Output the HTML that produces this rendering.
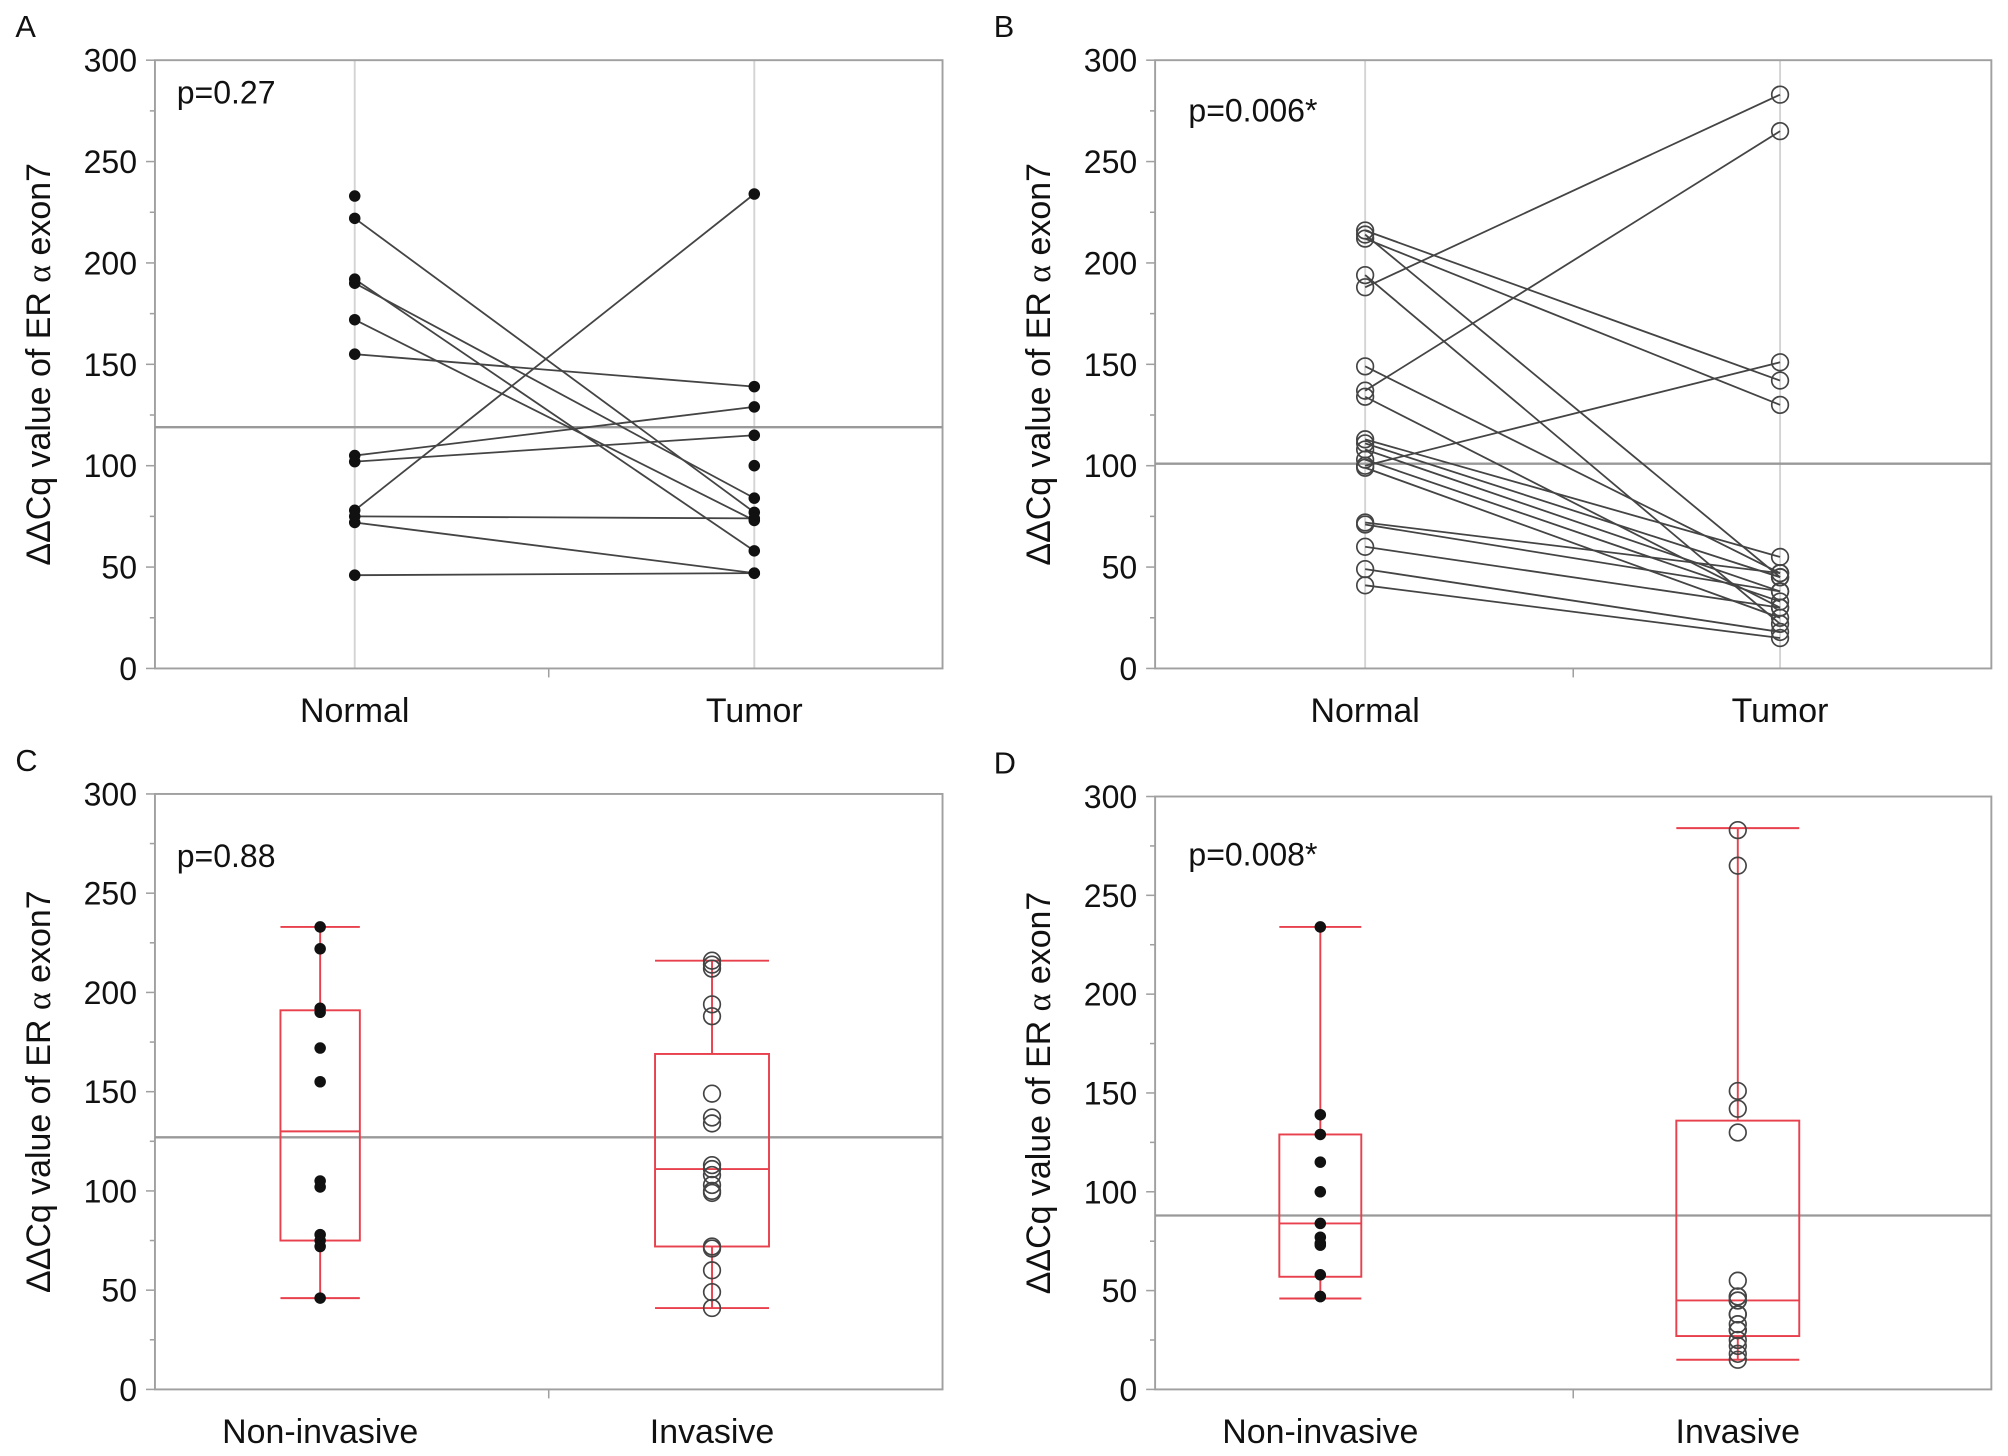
<!DOCTYPE html>
<html><head><meta charset="utf-8"><style>
html,body{margin:0;padding:0;background:#fff;}
svg{display:block;font-family:"Liberation Sans",Arial,sans-serif;}
</style></head><body>
<svg id="fig" width="2008" height="1456" viewBox="0 0 1568 1137" preserveAspectRatio="none" xmlns="http://www.w3.org/2000/svg"></svg>
<script>
const catsAB = ["Normal", "Tumor"];
const catsCD = ["Non-invasive", "Invasive"];
const yTicks = [0, 50, 100, 150, 200, 250, 300];
const aNormalOnly = [233];
const aTumorOnly = [100];
const aPairsNormal = [222, 192, 190, 172, 155, 105, 102, 78, 75, 72, 46];
const aPairsTumor  = [77, 58, 84, 73, 139, 129, 115, 234, 74, 47, 47];
const aMean = 119;
const bPairsNormal = [216, 212, 188, 137, 100, 194, 149, 134, 111, 108, 103, 99, 72, 71, 60, 49, 41, 113, 214];
const bPairsTumor  = [142, 130, 283, 265, 151, 22, 47, 30, 45, 38, 33, 25, 47, 38, 30, 18, 15, 55, 45];
const bMean = 101;
const cNonInvBox = [46, 75, 130, 191, 233];
const cInvBox = [41, 72, 111, 169, 216];
const cMean = 127;
const dNonInvBox = [46, 57, 84, 129, 234];
const dInvBox = [15, 27, 45, 136, 284];
const dMean = 88;
const pLabels = ["p=0.27", "p=0.006*", "p=0.88", "p=0.008*"];

const NS = "http://www.w3.org/2000/svg";
const svg = document.getElementById("fig");
function mk(tag, attrs, parent, text) {
  const e = document.createElementNS(NS, tag);
  for (const k in attrs) e.setAttribute(k, attrs[k]);
  if (text !== undefined) e.textContent = text;
  (parent || svg).appendChild(e);
  return e;
}
function panel(cfg) {
  const g = mk("g", {});
  
  
  const {L, R, T, B} = cfg;
  const y = v => B - (v / 300) * (B - T);
  cfg.y = y;
  const lt = mk("text", {x: cfg.letterX, y: T - 18, "font-size": 24, fill: "#111"}, g, cfg.letter);
  
  
  if (cfg.grid) cfg.cx.forEach(x => {
    const gl = mk("line", {x1: x, x2: x, y1: T, y2: B, stroke: "#d4d4d4", "stroke-width": 1.5}, g);
    
    
  });
  const fr = mk("rect", {x: L, y: T, width: R - L, height: B - T, fill: "none", stroke: "#a0a0a0", "stroke-width": 1.5}, g);
  
  
  for (let v = 0; v <= 300; v += 25) {
    const major = v % 50 === 0;
    mk("line", {x1: L - (major ? 7 : 4), x2: L, y1: y(v), y2: y(v), stroke: "#a0a0a0", "stroke-width": 1.2}, g);
  }
  yTicks.forEach(v => {
    const t = mk("text", {x: L - 14, y: y(v) + 9, "font-size": 25, "text-anchor": "end", fill: "#111"}, g, String(v));
    
    
  });
  mk("line", {x1: (L + R) / 2, x2: (L + R) / 2, y1: B, y2: B + 7, stroke: "#a0a0a0", "stroke-width": 1.2}, g);
  cfg.cats.forEach((c, i) => {
    const t = mk("text", {x: cfg.cx[i], y: B + 42, "font-size": 26.5, "text-anchor": "middle", fill: "#111"}, g, c);
    
    
  });
  const cy = (T + B) / 2;
  const yt = mk("text", {x: 0, y: 0, "font-size": 26.5, "text-anchor": "middle", fill: "#111", transform: `translate(${L - 82},${cy}) rotate(-90)`}, g);
  
  
  mk("tspan", {}, yt, "ΔΔCq value of ER ");
  mk("tspan", {"font-family": "Liberation Serif, serif"}, yt, "α");
  mk("tspan", {}, yt, " exon7");
  const ml = mk("line", {x1: L, x2: R, y1: y(cfg.mean), y2: y(cfg.mean), stroke: "#999", "stroke-width": 1.8}, g);
  
  
  const pl = mk("text", {x: cfg.pX, y: cfg.pY, "font-size": 25, fill: "#111"}, g, cfg.p);
  
  
  return g;
}
function point(g, x, yv, filled) {
  const c = mk("circle", filled ? {cx: x, cy: yv, r: 4.5, fill: "#111"} : {cx: x, cy: yv, r: 6.5, fill: "none", stroke: "#444", "stroke-width": 1.3}, g);
  
  
}
function box(g, cfg, x, w, s) {
  const y = cfg.y, col = "#e8404c";
  const bg = mk("g", {}, g);
  
  
  mk("line", {x1: x, x2: x, y1: y(s[0]), y2: y(s[1]), stroke: col, "stroke-width": 1.5}, bg);
  mk("line", {x1: x, x2: x, y1: y(s[3]), y2: y(s[4]), stroke: col, "stroke-width": 1.5}, bg);
  mk("line", {x1: x - w / 2, x2: x + w / 2, y1: y(s[0]), y2: y(s[0]), stroke: col, "stroke-width": 1.5}, bg);
  mk("line", {x1: x - w / 2, x2: x + w / 2, y1: y(s[4]), y2: y(s[4]), stroke: col, "stroke-width": 1.5}, bg);
  mk("rect", {x: x - w / 2, y: y(s[3]), width: w, height: y(s[1]) - y(s[3]), fill: "none", stroke: col, "stroke-width": 1.5}, bg);
  mk("line", {x1: x - w / 2, x2: x + w / 2, y1: y(s[2]), y2: y(s[2]), stroke: col, "stroke-width": 1.5}, bg);
}

const A = {name: "panel-a", letter: "A", letterX: 12, L: 121, R: 736, T: 47, B: 522, cx: [277, 589], cats: catsAB, grid: true, mean: aMean, p: pLabels[0], pX: 138, pY: 81};
const gA = panel(A);
aPairsNormal.forEach((n, i) => {
  const l = mk("line", {x1: A.cx[0], y1: A.y(n), x2: A.cx[1], y2: A.y(aPairsTumor[i]), stroke: "#444", "stroke-width": 1.4}, gA);
  
  
});
aPairsNormal.concat(aNormalOnly).forEach(v => point(gA, A.cx[0], A.y(v), true));
aPairsTumor.concat(aTumorOnly).forEach(v => point(gA, A.cx[1], A.y(v), true));

const Bp = {name: "panel-b", letter: "B", letterX: 776, L: 902, R: 1555, T: 47, B: 522, cx: [1066, 1390], cats: catsAB, grid: true, mean: bMean, p: pLabels[1], pX: 928, pY: 95};
const gB = panel(Bp);
bPairsNormal.forEach((n, i) => {
  const l = mk("line", {x1: Bp.cx[0], y1: Bp.y(n), x2: Bp.cx[1], y2: Bp.y(bPairsTumor[i]), stroke: "#444", "stroke-width": 1.4}, gB);
  
  
});
bPairsNormal.forEach(v => point(gB, Bp.cx[0], Bp.y(v), false));
bPairsTumor.forEach(v => point(gB, Bp.cx[1], Bp.y(v), false));

const C = {name: "panel-c", letter: "C", letterX: 12, L: 121, R: 736, T: 620, B: 1085, cx: [250, 556], cats: catsCD, grid: false, mean: cMean, p: pLabels[2], pX: 138, pY: 677};
const gC = panel(C);
box(gC, C, C.cx[0], 62, cNonInvBox);
box(gC, C, C.cx[1], 89, cInvBox);
aPairsNormal.concat(aNormalOnly).forEach(v => point(gC, C.cx[0], C.y(v), true));
bPairsNormal.forEach(v => point(gC, C.cx[1], C.y(v), false));

const D = {name: "panel-d", letter: "D", letterX: 776, L: 902, R: 1555, T: 622, B: 1085, cx: [1031, 1357], cats: catsCD, grid: false, mean: dMean, p: pLabels[3], pX: 928, pY: 676};
const gD = panel(D);
box(gD, D, D.cx[0], 64, dNonInvBox);
box(gD, D, D.cx[1], 96, dInvBox);
aPairsTumor.concat(aTumorOnly).forEach(v => point(gD, D.cx[0], D.y(v), true));
bPairsTumor.forEach(v => point(gD, D.cx[1], D.y(v), false));
</script>
</body></html>
